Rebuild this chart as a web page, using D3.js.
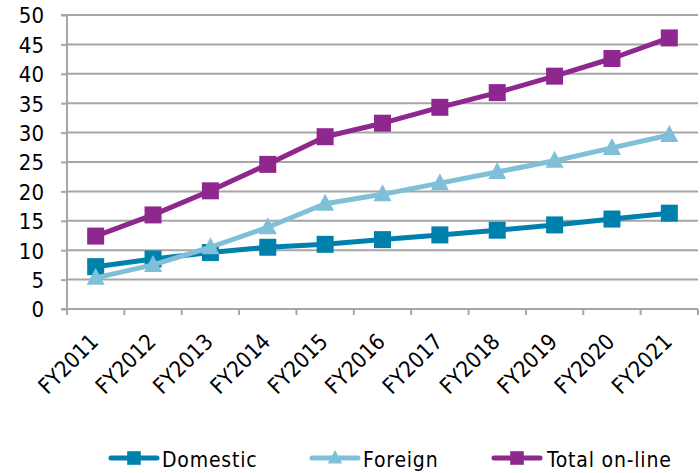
<!DOCTYPE html>
<html><head><meta charset="utf-8">
<script src="https://cdn.jsdelivr.net/npm/d3@7"></script>
<style>body{margin:0;background:#fff}svg{display:block}text{font-family:"DejaVu Sans Condensed","DejaVu Sans",sans-serif}</style>
</head><body><svg id="c" width="700" height="473"></svg>
<script>
const categories = ["FY2011","FY2012","FY2013","FY2014","FY2015","FY2016","FY2017","FY2018","FY2019","FY2020","FY2021"];
const domestic = [7.2, 8.5, 9.6, 10.5, 11.0, 11.8, 12.6, 13.4, 14.3, 15.3, 16.3];
const foreign  = [5.3, 7.5, 10.5, 13.9, 17.9, 19.5, 21.4, 23.3, 25.2, 27.4, 29.6];
const total    = [12.4, 16.0, 20.1, 24.6, 29.3, 31.6, 34.3, 36.8, 39.6, 42.6, 46.1];
const yTicks = [0,5,10,15,20,25,30,35,40,45,50];
const seriesNames = ["Domestic","Foreign","Total on-line"];

const colors = ["#0080AC","#7FC0D8","#8E278E"];
const series = [domestic, foreign, total];
const FONT = '"DejaVu Sans Condensed","DejaVu Sans",sans-serif';

function marker(k, s) {
  if (k === 1) return `M0,${-10*s}L${9*s},${7*s}L${-9*s},${7*s}Z`;
  const h = 8.5*s;
  return `M${-h},${-h}H${h}V${h}H${-h}Z`;
}

const svg = d3.select("#c");
const L = 67, R = 698, T = 15, B = 309;
const x = d3.scaleBand().domain(categories).range([L, R]);
const y = d3.scaleLinear().domain([0, 50]).range([B, T]);
const grid = "#a6a6a6";

// gridlines
svg.append("g").selectAll("line").data(yTicks.filter(t=>t>0)).join("line")
  .attr("x1", L).attr("x2", R).attr("y1", d=>y(d)).attr("y2", d=>y(d))
  .attr("stroke", grid).attr("stroke-width", 2);

// y axis
const ya = svg.append("g").attr("transform", `translate(${L},0)`)
  .call(d3.axisLeft(y).tickValues(yTicks).tickSize(6).tickPadding(17));
ya.select(".domain").attr("stroke", grid).attr("stroke-width", 2).attr("d", `M-6,${T}H0V${B}`);
ya.selectAll(".tick line").attr("stroke", grid).attr("stroke-width", 2);
ya.selectAll(".tick text").attr("font-size", 22).attr("fill", "#000").attr("font-family", FONT).attr("dy", "0.36em");

// x axis
const xa = svg.append("g").attr("transform", `translate(0,${B})`);
xa.append("line").attr("x1", L-6).attr("x2", R).attr("y1", 0).attr("y2", 0).attr("stroke", grid).attr("stroke-width", 2);
const bounds = categories.map(c => x(c)).concat([R]);
xa.selectAll("line.tk").data(bounds).join("line").attr("class","tk")
  .attr("x1", d=>d).attr("x2", d=>d).attr("y1", 0).attr("y2", 6).attr("stroke", grid).attr("stroke-width", 2);
xa.selectAll("text").data(categories).join("text")
  .attr("transform", d => `translate(${x(d)+x.bandwidth()/2+4},${34}) rotate(-45)`)
  .attr("text-anchor", "end").attr("font-size", 22).attr("fill", "#000").text(d=>d);

// lines + markers
const cx = i => x(categories[i]) + x.bandwidth()/2;
const line = d3.line().x((d,i)=>cx(i)).y(d=>y(d));
series.forEach((s, k) => {
  const g = svg.append("g");
  g.append("path").attr("d", line(s)).attr("fill","none").attr("stroke", colors[k]).attr("stroke-width", 5).attr("stroke-linejoin","round");
  g.selectAll("path.m").data(s).join("path").attr("class","m")
    .attr("transform", (d,i)=>`translate(${cx(i)},${y(d)})`)
    .attr("d", marker(k, 1))
    .attr("fill", colors[k]);
});

// legend
const legX = [109, 310, 492];
const legY = 458;
seriesNames.forEach((n, k) => {
  const g = svg.append("g").attr("transform", `translate(${legX[k]},${legY})`);
  g.append("line").attr("x1", 2).attr("x2", 48).attr("y1", 0).attr("y2", 0).attr("stroke", colors[k]).attr("stroke-width", 5).attr("stroke-linecap","round");
  g.append("path").attr("transform","translate(25,0)").attr("d", marker(k, 0.8)).attr("fill", colors[k]);
  g.append("text").attr("x", k===2?55:53).attr("y", 8.5).attr("font-size", 21).attr("letter-spacing", 0.8).attr("font-family", FONT).attr("fill","#000").text(n);
});
</script></body></html>
